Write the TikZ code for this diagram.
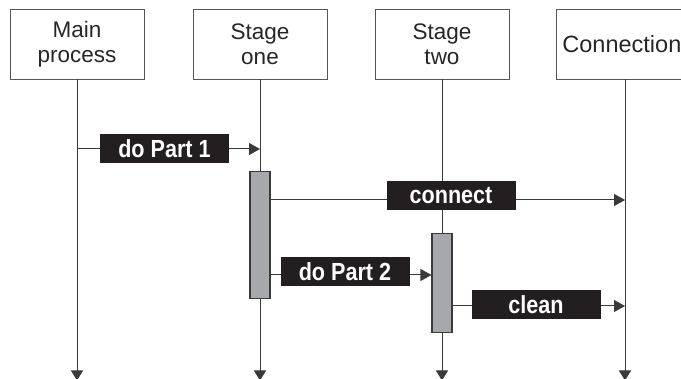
\documentclass[tikz,border=0pt]{standalone}
\usepackage{fontspec}
\setmainfont{Liberation Sans}
\usetikzlibrary{arrows.meta}
\definecolor{ln}{HTML}{3A3A3A}
\definecolor{boxln}{HTML}{555555}
\definecolor{bargray}{HTML}{A7A8AB}
\definecolor{lblbg}{HTML}{231F20}
\newcommand{\lbltext}[1]{\scalebox{0.96}[1.1]{#1}}
\begin{document}
\begin{tikzpicture}[x=1pt,y=-1pt,
  head/.style={draw=boxln, line width=0.9pt, minimum width=134pt, minimum height=70pt,
    inner sep=0pt, align=center, font=\fontsize{22.5}{25}\selectfont, text=black!85},
  life/.style={draw=ln, line width=1pt, -{Triangle[length=10pt,width=12pt]}},
  msg/.style={draw=ln, line width=1pt, -{Triangle[length=11pt,width=12pt]}},
  actbar/.style={draw=ln, fill=bargray, line width=1.1pt, minimum width=20pt, inner sep=0pt},
  lab/.style={fill=lblbg, text=white, font=\fontsize{22.5}{24}\selectfont\bfseries,
    minimum width=129pt, minimum height=29pt, inner sep=0pt}]
\useasboundingbox (0,0) rectangle (681,379);

% header boxes
\node[head] (main) at (77,44) {Main\\process};
\node[head] (one) at (260,44) {Stage\\one};
\node[head] (two) at (442,44) {Stage\\two};
\node[draw=boxln, line width=0.9pt, minimum height=70pt, inner xsep=6pt, inner ysep=0pt,
  text width=140pt, align=left, anchor=west, font=\fontsize{23.5}{25}\selectfont, text=black!85]
  (conn) at (556,44) {Connection};
\coordinate (connL) at (625,79);

% lifelines
\draw[life] (main.south) -- (main.south |- 0,380.5);
\draw[life] (one.south) -- (one.south |- 0,380.5);
\draw[life] (two.south) -- (two.south |- 0,380.5);
\draw[life] (connL) -- (connL |- 0,380.5);

% activation bars
\node[actbar, minimum height=127pt, anchor=north] (a1) at (260,171) {};
\node[actbar, minimum height=99pt, anchor=north] (a2) at (442,233) {};

% messages
\draw[msg] (main.south |- 0,149) -- (one.south |- 0,149);
\node[lab] (l1) at (164.5,149) {\lbltext{do Part 1}};

\draw[msg] (a1.east |- 0,200) -- (connL |- 0,200);
\node[lab] (l2) at (451,196) {\lbltext{connect}};

\draw[msg] (a1.east |- 0,275) -- (a2.west |- 0,275);
\node[lab] (l3) at (345,272) {\lbltext{do Part 2}};

\draw[msg] (a2.east |- 0,306) -- (connL |- 0,306);
\node[lab] (l4) at (536,304.5) {\lbltext{clean}};
\end{tikzpicture}
\end{document}
